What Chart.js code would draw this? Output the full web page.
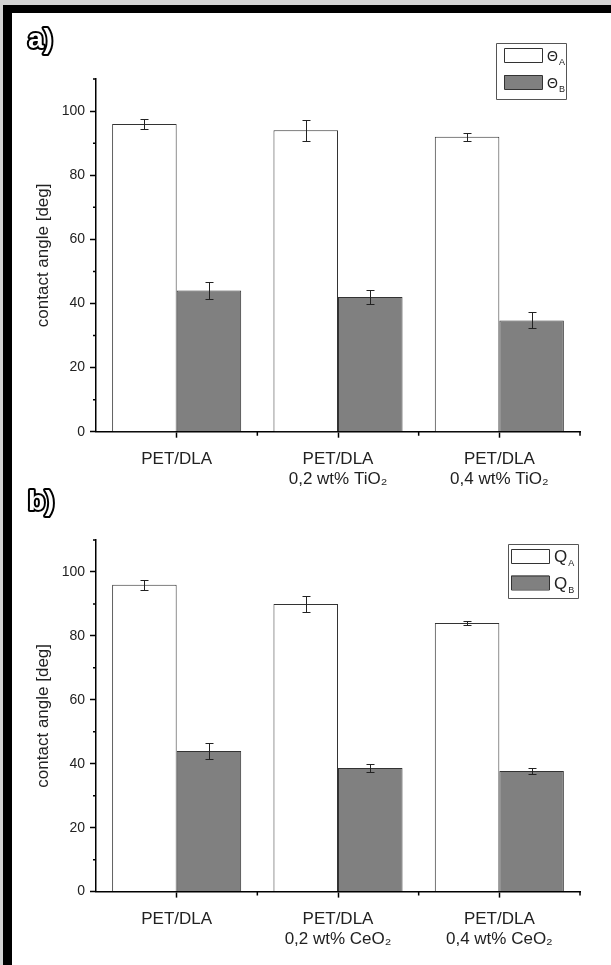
<!DOCTYPE html>
<html>
<head>
<meta charset="utf-8">
<script src="https://cdn.jsdelivr.net/npm/chart.js@4.4.1/dist/chart.umd.min.js"></script>
<style>
  html, body { margin: 0; padding: 0; background: #fff; }
  body { width: 611px; height: 965px; position: relative; overflow: hidden; }
  canvas { position: absolute; left: 0; }
  #chartTiO2 { top: 0; }
  #chartCeO2 { top: 480px; }
  .edge { position: absolute; z-index: 5; }
</style>
</head>
<body>
<div class="edge" style="left:0;top:0;width:611px;height:5px;background:#d4d4d4"></div>
<div class="edge" style="left:0;top:0;width:3px;height:965px;background:#d4d4d4"></div>
<div class="edge" style="left:3px;top:5px;width:608px;height:8px;background:#000"></div>
<div class="edge" style="left:3px;top:5px;width:9px;height:960px;background:#000"></div>
<canvas id="chartTiO2" width="611" height="505"></canvas>
<canvas id="chartCeO2" width="611" height="485"></canvas>
<script>
// data
const categoriesTiO2 = [['PET/DLA'], ['PET/DLA', '0,2 wt% TiO₂'], ['PET/DLA', '0,4 wt% TiO₂']];
const categoriesCeO2 = [['PET/DLA'], ['PET/DLA', '0,2 wt% CeO₂'], ['PET/DLA', '0,4 wt% CeO₂']];
const seriesNamesTiO2 = ['Θ_A', 'Θ_B'];
const seriesNamesCeO2 = ['Q_A', 'Q_B'];

const angleA_TiO2 = [96, 94, 92];
const errA_TiO2 = [1.5, 3.3, 1.2];
const angleB_TiO2 = [44, 42, 34.7];
const errB_TiO2 = [2.6, 2.3, 2.5];

const angleA_CeO2 = [96, 90, 84];
const errA_CeO2 = [1.5, 2.5, 0.7];
const angleB_CeO2 = [44, 38.7, 37.7];
const errB_CeO2 = [2.6, 1.15, 1.0];

const yMin = 0;
const yMax = 110;
const yMajorStep = 20;
const yTitle = 'contact angle [deg]';

Chart.defaults.font.family = '"Liberation Sans", Arial, sans-serif';

// error bars on top of each bar
const errorBars = {
    id: 'errorBars',
    afterDatasetsDraw(chart) {
        const ctx = chart.ctx;
        const y = chart.scales.y;
        ctx.save();
        ctx.strokeStyle = '#222';
        ctx.lineWidth = 1;
        chart.data.datasets.forEach((ds, di) => {
            chart.getDatasetMeta(di).data.forEach((bar, i) => {
                const top = Math.round(y.getPixelForValue(ds.data[i] + ds.errors[i])) + 0.5;
                const bot = Math.round(y.getPixelForValue(ds.data[i] - ds.errors[i])) + 0.5;
                const x = Math.round(bar.x) + 0.5;
                ctx.beginPath();
                ctx.moveTo(x, top); ctx.lineTo(x, bot);
                ctx.moveTo(x - 4, top); ctx.lineTo(x + 4, top);
                ctx.moveTo(x - 4, bot); ctx.lineTo(x + 4, bot);
                ctx.stroke();
            });
        });
        ctx.restore();
    }
};

// short ticks: odd tens on y, category edges on x
const minorTicks = {
    id: 'minorTicks',
    afterDraw(chart) {
        const { ctx, scales: { x, y } } = chart;
        ctx.save();
        ctx.strokeStyle = '#000';
        ctx.lineWidth = 1.5;
        ctx.beginPath();
        for (let v = yMajorStep / 2; v <= yMax; v += yMajorStep) {
            const py = y.getPixelForValue(v);
            ctx.moveTo(y.right - 3, py);
            ctx.lineTo(y.right, py);
        }
        const half = (x.getPixelForValue(1) - x.getPixelForValue(0)) / 2;
        for (let i = 0; i < chart.data.labels.length; i++) {
            const px = x.getPixelForValue(i) + half;
            ctx.moveTo(px, x.top);
            ctx.lineTo(px, x.top + 4);
        }
        ctx.stroke();
        ctx.restore();
    }
};

// panel letter + boxed legend
const panelDecor = {
    id: 'panelDecor',
    afterDraw(chart, args, opts) {
        const ctx = chart.ctx;
        ctx.save();
        ctx.font = 'bold 28px "Liberation Sans", Arial, sans-serif';
        ctx.textBaseline = 'alphabetic';
        ctx.textAlign = 'left';
        ctx.lineJoin = 'round';
        ctx.lineWidth = 4;
        ctx.strokeStyle = '#000';
        ctx.fillStyle = '#fff';
        ctx.strokeText(opts.letter, opts.letterX, opts.letterY);
        ctx.fillText(opts.letter, opts.letterX, opts.letterY);

        const b = opts.box;
        ctx.lineWidth = 1;
        ctx.strokeStyle = '#555';
        ctx.strokeRect(b.x + 0.5, b.y + 0.5, b.w, b.h);
        chart.data.datasets.forEach((ds, i) => {
            const sx = b.x + opts.swX;
            const sy = b.y + opts.rowY[i];
            ctx.fillStyle = ds.backgroundColor;
            ctx.fillRect(sx, sy, opts.swW, opts.swH);
            ctx.strokeStyle = '#333';
            ctx.strokeRect(sx + 0.5, sy + 0.5, opts.swW, opts.swH);
            const [main, sub] = ds.label.split('_');
            const tx = sx + opts.swW + opts.gap;
            const base = sy + opts.swH - 1;
            ctx.fillStyle = '#222';
            ctx.font = opts.font;
            ctx.fillText(main, tx, base);
            const w = ctx.measureText(main).width;
            ctx.font = opts.subFont;
            ctx.fillText(sub, tx + w + 1, base + 4);
        });
        ctx.restore();
    }
};

function createContactChart(canvasId, labels, names, valsA, errsA, valsB, errsB, panel) {
    const canvas = document.getElementById(canvasId);
    if (!canvas) {
        console.error('Canvas not found:', canvasId);
        return;
    }
    return new Chart(canvas.getContext('2d'), {
        type: 'bar',
        data: {
            labels: labels,
            datasets: [
                {
                    label: names[0], data: valsA, errors: errsA,
                    backgroundColor: '#ffffff', borderColor: '#333333', borderWidth: 1,
                    categoryPercentage: 0.8, barPercentage: 1.0
                },
                {
                    label: names[1], data: valsB, errors: errsB,
                    backgroundColor: '#808080', borderColor: '#333333', borderWidth: 1,
                    categoryPercentage: 0.8, barPercentage: 1.0
                }
            ]
        },
        options: {
            responsive: false,
            animation: false,
            devicePixelRatio: 1,
            layout: { padding: { top: panel.top, right: 31, bottom: 0, left: 0 } },
            plugins: {
                legend: { display: false },
                tooltip: { enabled: false },
                panelDecor: panel.decor
            },
            scales: {
                x: {
                    grid: { display: true, drawOnChartArea: false, offset: false, tickLength: 6, tickColor: '#000', tickWidth: 1.5 },
                    border: { display: true, color: '#000', width: 1.5 },
                    ticks: { color: '#222', font: { size: 17, lineHeight: 1.15 }, padding: 12, autoSkip: false, maxRotation: 0 },
                    afterFit: (s) => { s.height = panel.xHeight; }
                },
                y: {
                    min: yMin,
                    max: yMax,
                    grid: { display: true, drawOnChartArea: false, tickLength: 6, tickColor: '#000', tickWidth: 1.5 },
                    border: { display: true, color: '#000', width: 1.5 },
                    ticks: { stepSize: yMajorStep, includeBounds: false, color: '#222', font: { size: 14 }, padding: 5 },
                    title: { display: true, text: yTitle, color: '#222', font: { size: 17 }, padding: { top: 33, bottom: 0 } },
                    afterFit: (s) => { s.width = 96; }
                }
            }
        },
        plugins: [errorBars, minorTicks, panelDecor]
    });
}

createContactChart('chartTiO2', categoriesTiO2, seriesNamesTiO2,
    angleA_TiO2, errA_TiO2, angleB_TiO2, errB_TiO2, {
        top: 79, xHeight: 505 - 431.7,
        decor: {
            letter: 'a)', letterX: 28, letterY: 48,
            box: { x: 496, y: 43, w: 70, h: 56 },
            swX: 8, swW: 38, swH: 14, rowY: [5, 32], gap: 5,
            font: '14px "Liberation Sans", Arial, sans-serif',
            subFont: '9px "Liberation Sans", Arial, sans-serif'
        }
    });

createContactChart('chartCeO2', categoriesCeO2, seriesNamesCeO2,
    angleA_CeO2, errA_CeO2, angleB_CeO2, errB_CeO2, {
        top: 60, xHeight: 485 - 411.6,
        decor: {
            letter: 'b)', letterX: 28, letterY: 30,
            box: { x: 508, y: 64, w: 70, h: 54 },
            swX: 3, swW: 38, swH: 14, rowY: [5, 31.5], gap: 5,
            font: '17px "Liberation Sans", Arial, sans-serif',
            subFont: '9px "Liberation Sans", Arial, sans-serif'
        }
    });
</script>
</body>
</html>
